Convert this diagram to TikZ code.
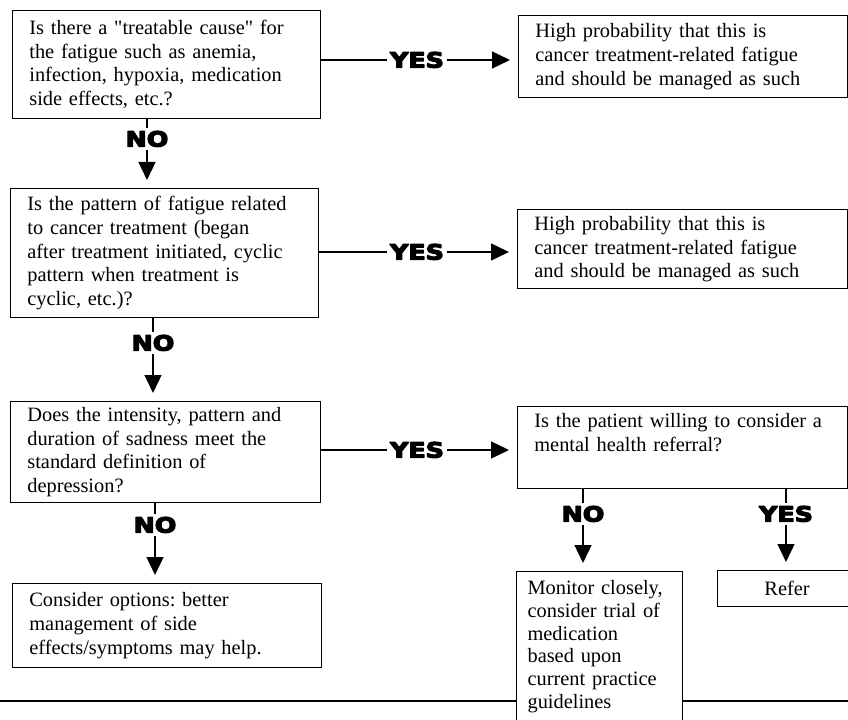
\documentclass[tikz,border=0pt]{standalone}
\usepackage{fontspec}
\setmainfont{Liberation Serif}
\newfontfamily\answerfont{DejaVu Sans}
\usetikzlibrary{arrows.meta}
\frenchspacing
\newcommand{\reply}[1]{\special{pdf:literal direct 1 j 0.8 w 2 Tr}\scalebox{1.2}[1]{#1}\special{pdf:literal direct 0 Tr}}

\begin{document}
\begin{tikzpicture}[box/.style={draw,line width=0.8pt,anchor=north west,align=left,inner xsep=0.42cm,font=\fontsize{14.5}{16.8}\selectfont},
            answer/.style={font=\answerfont\bfseries\fontsize{15}{16}\selectfont,inner sep=0.08cm,text height=0.38cm,text depth=0pt},
            link/.style={line width=1.5pt},
            arrow/.style={link,-{Triangle[length=0.45cm,width=0.42cm]},shorten >=0.2cm}]
            \path[use as bounding box] (0,0) rectangle (21.2,17.975);

            \node[box,text width=6.86cm,minimum height=2.7cm] (q1) at (0.3,17.725) {Is there a \textquotedbl treatable cause\textquotedbl{} for\\the fatigue such as anemia,\\infection, hypoxia, medication\\side effects, etc.?};
            \node[box,text width=6.86cm,minimum height=3.225cm] (q2) at (0.25,13.275) {Is the pattern of fatigue related\\to cancer treatment (began\\after treatment initiated, cyclic\\pattern when treatment is\\cyclic, etc.)?};
            \node[box,text width=6.91cm,minimum height=2.525cm] (q3) at (0.25,7.95) {Does the intensity, pattern and\\duration of sadness meet the\\standard definition of\\depression?};
            \node[box,text width=6.885cm,minimum height=2.1cm] (opt) at (0.3,3.4) {Consider options: better\\management of side\\effects/symptoms may help.};

            \node[box,text width=7.385cm,minimum height=2.05cm] (r1) at (12.95,17.6) {High probability that this is\\cancer treatment-related fatigue\\and should be managed as such};
            \node[box,text width=7.41cm,minimum height=1.98cm] (r2) at (12.925,12.75) {High probability that this is\\cancer treatment-related fatigue\\and should be managed as such};
            \node[box,text width=7.41cm,minimum height=2.05cm] (r3) at (12.925,7.825) {Is the patient willing to consider a\\mental health referral?\\\strut};
            \node[box,text width=3.6cm,inner xsep=0.275cm,inner ysep=0.22cm,font=\fontsize{14.5}{16.2}\selectfont] (mon) at (12.9,3.7) {Monitor closely,\\consider trial of\\medication\\based upon\\current practice\\guidelines};
            \node[box,minimum width=3.475cm,minimum height=0.9cm] (refer) at (17.925,3.725) {Refer};

            \node[answer] (yes1) at (10.425,16.475) {\reply{YES}};
            \node[answer] (yes2) at (10.425,11.675) {\reply{YES}};
            \node[answer] (yes3) at (10.425,6.725) {\reply{YES}};
            \node[answer] (no1) at (3.675,14.5) {\reply{NO}};
            \node[answer] (no2) at (3.825,9.4) {\reply{NO}};
            \node[answer] (no3) at (3.875,4.85) {\reply{NO}};
            \node[answer] (no4) at (14.575,5.125) {\reply{NO}};
            \node[answer] (yes4) at (19.65,5.125) {\reply{YES}};

            \foreach \q/\a/\r in {q1/yes1/r1,q2/yes2/r2,q3/yes3/r3} {
                \draw[link] (\q.east |- \a) -- (\a);
                \draw[arrow] (\a) -- (\a -| \r.west);
            }
            \foreach \q/\a/\r in {q1/no1/q2,q2/no2/q3,q3/no3/opt,r3/no4/mon,r3/yes4/refer} {
                \draw[link] (\q.south -| \a) -- (\a);
                \draw[arrow] (\a) -- (\a |- \r.north);
            }

            \coordinate (rl) at (0,0.45);
            \coordinate (rr) at (21.2,0.45);
            \draw[line width=1.8pt] (rl) -- (rl -| mon.west);
            \draw[line width=1.8pt] (rr -| mon.east) -- (rr);
        \end{tikzpicture}
\end{document}
